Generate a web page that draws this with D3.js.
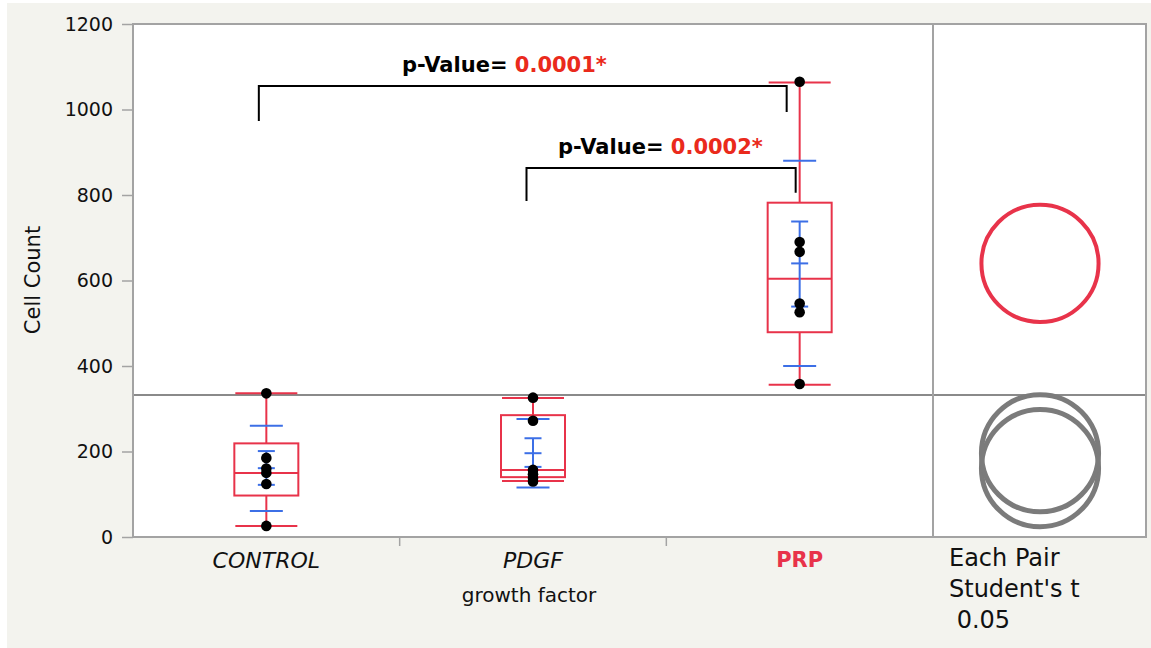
<!DOCTYPE html>
<html>
<head>
<meta charset="utf-8">
<script src="https://cdnjs.cloudflare.com/ajax/libs/d3/7.8.5/d3.min.js"></script>
<style>
  body { margin: 0; background: #fff; }
  svg { display: block; font-family: "DejaVu Sans", sans-serif; }
</style>
</head>
<body>
<svg id="chart"></svg>
<script>
// categories and raw counts
const categories = ['CONTROL', 'PDGF', 'PRP'];
const controlCounts = [336, 185, 160, 150, 124, 26];
const pdgfCounts = [326, 272, 157, 147, 138, 130];
const prpCounts = [1065, 690, 667, 546, 526, 358];

// box plot summaries
const q1 = [97, 140, 479];
const medians = [150, 157, 604];
const q3 = [219, 285, 782];
const whiskerLow = [26, 131, 356];
const whiskerHigh = [336, 325, 1063];

// mean, confidence interval, std dev lines
const means = [161, 196, 640];
const ciLow = [122, 164, 539];
const ciHigh = [201, 231, 738];
const sdLow = [61, 116, 400];
const sdHigh = [260, 276, 880];

// comparison circles (radius in Cell Count units)
const circleRadius = [137, 137, 137];
const grandMean = 332;

const yTicks = [0, 200, 400, 600, 800, 1000, 1200];

// p-value brackets
const pairs = [['CONTROL', 'PRP'], ['PDGF', 'PRP']];
const pLabels = ['0.0001*', '0.0002*'];
const bracketTop = [1055, 863];
const bracketLeftEnd = [973, 786];
const bracketRightEnd = [994, 805];

const allCounts = [controlCounts, pdgfCounts, prpCounts];

let width = 1151;
let height = 648;
let plotLeft = 133, plotTop = 24, plotRight = 933, panelRight = 1146, plotBottom = 537;

const red = '#e8334a';
const blue = '#3c6fe6';
const pRed = '#ea2a1c';
const frameGray = '#a3a3a3';

let svg = d3.select('#chart').attr('width', width).attr('height', height);

// page background
svg.append('rect').attr('x', 7).attr('y', 3).attr('width', width - 7).attr('height', height - 3)
    .attr('fill', '#f3f3ee');
svg.append('rect').attr('x', plotLeft).attr('y', plotTop).attr('width', panelRight - plotLeft).attr('height', plotBottom - plotTop)
    .attr('fill', '#fff');

let xScale = d3.scaleBand().domain(categories).range([plotLeft, plotRight]);
let yScale = d3.scaleLinear().domain([0, 1200]).range([plotBottom, plotTop]);
const cx = c => xScale(c) + xScale.bandwidth() / 2;

// grand mean line
svg.append('line')
    .attr('x1', plotLeft).attr('x2', panelRight)
    .attr('y1', yScale(grandMean)).attr('y2', yScale(grandMean))
    .attr('stroke', '#8a8a8a').attr('stroke-width', 2);

// y axis
let yAxis = d3.axisLeft(yScale).tickValues(yTicks).tickFormat(d3.format('d')).tickSize(11).tickPadding(9);
let gy = svg.append('g').attr('transform', 'translate(' + plotLeft + ',0)').call(yAxis);
gy.select('.domain').remove();
gy.selectAll('line').attr('stroke', frameGray).attr('stroke-width', 1.5);
gy.selectAll('text').attr('font-size', 19).attr('fill', '#111').attr('font-family', '"DejaVu Sans", sans-serif');

svg.append('text')
    .attr('transform', 'translate(40,280) rotate(-90)')
    .attr('text-anchor', 'middle')
    .attr('font-size', 21)
    .attr('fill', '#111')
    .text('Cell Count');

// x axis
let xAxis = d3.axisBottom(xScale).tickSize(0).tickPadding(15);
let gx = svg.append('g').attr('transform', 'translate(0,' + plotBottom + ')').call(xAxis);
gx.select('.domain').remove();
gx.selectAll('text')
    .attr('font-family', '"DejaVu Sans", sans-serif')
    .attr('font-size', d => d === 'PRP' ? 21 : 22)
    .attr('font-style', d => d === 'PRP' ? 'normal' : 'italic')
    .attr('font-weight', d => d === 'PRP' ? 'bold' : 'normal')
    .attr('fill', d => d === 'PRP' ? red : '#111');

// separators between categories
svg.selectAll('.sep')
    .data(categories.slice(1))
    .enter()
    .append('line')
    .attr('x1', d => xScale(d)).attr('x2', d => xScale(d))
    .attr('y1', plotBottom).attr('y2', plotBottom + 9)
    .attr('stroke', frameGray).attr('stroke-width', 1.5);

svg.append('text')
    .attr('x', cx('PDGF') - 4).attr('y', 602)
    .attr('text-anchor', 'middle')
    .attr('font-size', 20)
    .attr('fill', '#111')
    .text('growth factor');

// boxes
let groups = categories.map((c, i) => ({
    cat: c, q1: q1[i], med: medians[i], q3: q3[i], lo: whiskerLow[i], hi: whiskerHigh[i],
    mean: means[i], ciLo: ciLow[i], ciHi: ciHigh[i], sdLo: sdLow[i], sdHi: sdHigh[i]
}));

let g = svg.selectAll('.grp').data(groups).enter().append('g').attr('class', 'grp');

g.append('line')
    .attr('x1', d => cx(d.cat)).attr('x2', d => cx(d.cat))
    .attr('y1', d => yScale(d.lo)).attr('y2', d => yScale(d.hi))
    .attr('stroke', red).attr('stroke-width', 2);
g.append('rect')
    .attr('x', d => cx(d.cat) - 32).attr('width', 64)
    .attr('y', d => yScale(d.q3)).attr('height', d => yScale(d.q1) - yScale(d.q3))
    .attr('fill', '#fff').attr('stroke', red).attr('stroke-width', 2);
g.append('line')
    .attr('x1', d => cx(d.cat) - 32).attr('x2', d => cx(d.cat) + 32)
    .attr('y1', d => yScale(d.med)).attr('y2', d => yScale(d.med))
    .attr('stroke', red).attr('stroke-width', 2);
['lo', 'hi'].forEach(k => {
    g.append('line')
        .attr('x1', d => cx(d.cat) - 31).attr('x2', d => cx(d.cat) + 31)
        .attr('y1', d => yScale(d[k])).attr('y2', d => yScale(d[k]))
        .attr('stroke', red).attr('stroke-width', 2);
});

// mean, ci and std dev marks
g.append('line')
    .attr('x1', d => cx(d.cat)).attr('x2', d => cx(d.cat))
    .attr('y1', d => yScale(d.ciLo)).attr('y2', d => yScale(d.ciHi))
    .attr('stroke', blue).attr('stroke-width', 2);
['ciLo', 'mean', 'ciHi'].forEach(k => {
    g.append('line')
        .attr('x1', d => cx(d.cat) - 8.5).attr('x2', d => cx(d.cat) + 8.5)
        .attr('y1', d => yScale(d[k])).attr('y2', d => yScale(d[k]))
        .attr('stroke', blue).attr('stroke-width', 2);
});
['sdLo', 'sdHi'].forEach(k => {
    g.append('line')
        .attr('x1', d => cx(d.cat) - 16.5).attr('x2', d => cx(d.cat) + 16.5)
        .attr('y1', d => yScale(d[k])).attr('y2', d => yScale(d[k]))
        .attr('stroke', blue).attr('stroke-width', 2);
});

// points
let points = [];
allCounts.forEach((arr, i) => arr.forEach(v => points.push({ cat: categories[i], v: v })));
svg.selectAll('.dot')
    .data(points)
    .enter()
    .append('circle')
    .attr('class', 'dot')
    .attr('cx', d => cx(d.cat))
    .attr('cy', d => yScale(d.v))
    .attr('r', 5.3)
    .attr('fill', '#000');

// frame
svg.append('rect').attr('x', plotLeft).attr('y', plotTop).attr('width', panelRight - plotLeft).attr('height', plotBottom - plotTop)
    .attr('fill', 'none').attr('stroke', frameGray).attr('stroke-width', 2);
svg.append('line').attr('x1', plotRight).attr('x2', plotRight).attr('y1', plotTop).attr('y2', plotBottom)
    .attr('stroke', frameGray).attr('stroke-width', 2);

// comparison circles
const circleX = (plotRight + panelRight) / 2 + 0.5;
svg.selectAll('.cc')
    .data(categories.map((c, i) => ({ cat: c, mean: means[i], r: circleRadius[i] })))
    .enter()
    .append('circle')
    .attr('cx', circleX)
    .attr('cy', d => yScale(d.mean))
    .attr('r', d => yScale(0) - yScale(d.r))
    .attr('fill', 'none')
    .attr('stroke', d => d.cat === 'PRP' ? red : '#7b7b7b')
    .attr('stroke-width', d => d.cat === 'PRP' ? 4 : 5);

svg.selectAll('.legend')
    .data(['Each Pair', "Student's t", ' 0.05'])
    .enter()
    .append('text')
    .attr('x', 949)
    .attr('y', (d, i) => 566 + i * 31)
    .attr('font-size', 24)
    .attr('fill', '#111')
    .style('white-space', 'pre')
    .text(d => d);

// brackets
pairs.forEach((p, i) => {
    let x1 = cx(p[0]) - (i === 0 ? 7.5 : 6.5);
    let x2 = cx(p[1]) - (i === 0 ? 13 : 4);
    let path = d3.path();
    path.moveTo(x1, yScale(bracketLeftEnd[i]));
    path.lineTo(x1, yScale(bracketTop[i]));
    path.lineTo(x2, yScale(bracketTop[i]));
    path.lineTo(x2, yScale(bracketRightEnd[i]));
    svg.append('path').attr('d', path.toString())
        .attr('fill', 'none').attr('stroke', '#000').attr('stroke-width', 2);

    let t = svg.append('text')
        .attr('x', i === 0 ? 402 : 558)
        .attr('y', yScale(bracketTop[i]) - 14)
        .attr('font-size', 21)
        .attr('font-weight', 'bold');
    t.append('tspan').attr('fill', '#000').text('p-Value= ');
    t.append('tspan').attr('fill', pRed).text(pLabels[i]);
});
</script>
</body>
</html>
